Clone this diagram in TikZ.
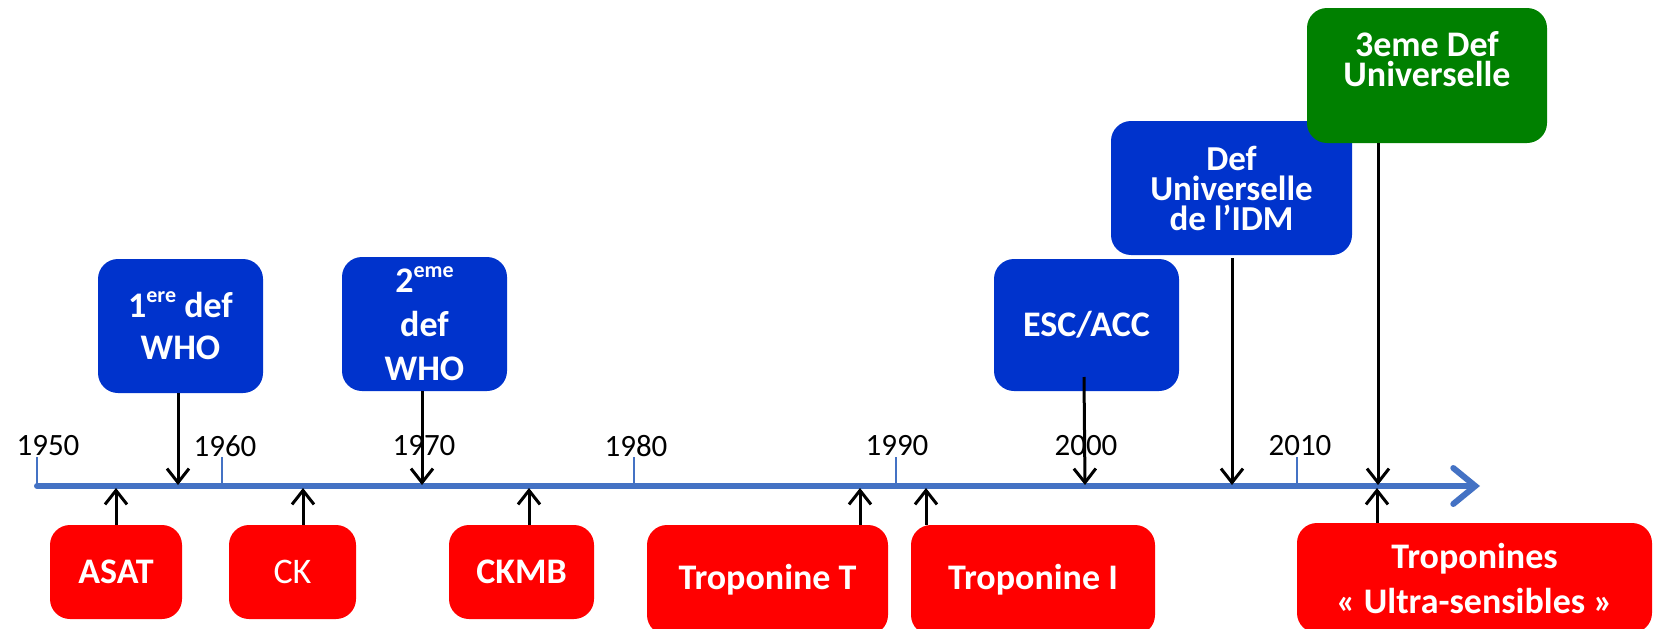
\documentclass[tikz,border=0pt]{standalone}
\usepackage{fontspec}
\setmainfont{Carlito}
\usetikzlibrary{arrows.meta}
\definecolor{boxblue}{RGB}{0,51,204}
\definecolor{boxred}{RGB}{255,0,0}
\definecolor{boxgreen}{RGB}{0,128,0}
\definecolor{axisblue}{RGB}{68,114,196}
\newcommand\supx[1]{\raisebox{0.42em}{\fontsize{22}{22}\selectfont #1}}
\begin{document}
\begin{tikzpicture}[x=1pt,y=-1pt,
  evt/.style={rounded corners=20pt, text=white, align=center, inner sep=0pt,
    font=\fontsize{36}{42}\selectfont\bfseries},
  bluebox/.style={evt, fill=boxblue},
  redbox/.style={evt, fill=boxred},
  greenbox/.style={evt, fill=boxgreen},
  ptr/.style={draw=black, line width=3pt, -{Straight Barb[length=14pt,width=22pt]}},
  axisline/.style={draw=axisblue, line width=6pt, line cap=round,
    -{Straight Barb[length=22pt,width=36pt,line cap=round]}},
  tickline/.style={draw=axisblue, line width=1.2pt},
  year/.style={font=\fontsize{31}{31}\selectfont, text=black, inner sep=0pt}
]
\useasboundingbox (0,0) rectangle (1658,629);

% axis
\coordinate (ax0) at (37,486);
\coordinate (axend) at (1480,486);
\foreach \t in {37,222,423,634,896,1085,1297}{
  \draw[tickline] (\t,457) -- (\t,486);
}
\draw[axisline] (ax0) -- (axend);

% year labels
\node[year] (y1950) at (48,446) {1950};
\node[year] (y1960) at (225,446) {1960};
\node[year] (y1970) at (424,446) {1970};
\node[year] (y1980) at (636,446) {1980};
\node[year] (y1990) at (897,446) {1990};
\node[year] (y2000) at (1086,446) {2000};
\node[year] (y2010) at (1300,446) {2010};

% upper boxes
\node[bluebox, minimum width=165pt, minimum height=134pt] (who1) at (180.5,326) {1\supx{ere} def\\WHO};
\node[bluebox, minimum width=165pt, minimum height=134pt, font=\fontsize{36}{44}\selectfont\bfseries] (who2) at (424.5,324) {2\supx{eme}\\def\\WHO};
\node[bluebox, minimum width=185pt, minimum height=132pt] (esc) at (1086.5,325) {ESC/ACC};
\node[bluebox, minimum width=241pt, minimum height=134pt, font=\fontsize{35}{30}\selectfont\bfseries] (idm) at (1231.5,188) {Def\\Universelle\\de l’IDM};
\node[greenbox, minimum width=240pt, minimum height=135pt, font=\fontsize{36}{30}\selectfont\bfseries] (third) at (1427,75.5) {3eme Def\\Universelle\\[4pt]};

% lower boxes
\node[redbox, minimum width=132pt, minimum height=94pt] (asat) at (116,572) {ASAT};
\node[redbox, minimum width=127pt, minimum height=94pt, font=\fontsize{36}{42}\selectfont\mdseries] (ck) at (292.5,572) {CK};
\node[redbox, minimum width=145pt, minimum height=94pt] (ckmb) at (521.5,572) {CKMB};
\node[redbox, minimum width=241pt, minimum height=110pt] (tropT) at (767.5,580) {Troponine T};
\node[redbox, minimum width=244pt, minimum height=110pt] (tropI) at (1033,580) {Troponine I};
\node[redbox, minimum width=355pt, minimum height=110pt, font=\fontsize{36}{45}\selectfont\bfseries] (ultra) at (1474.5,578) {Troponines\\« Ultra-sensibles »};

% arrow end points on the axis
\coordinate (dw1) at (178,485);
\coordinate (dw2) at (422,485);
\coordinate (des) at (1085,485);
\coordinate (didm) at (1232,485);
\coordinate (dthird) at (1378,485);
\coordinate (uasat) at (116,488);
\coordinate (uck) at (303,488);
\coordinate (uckmb) at (529,488);
\coordinate (utT) at (860,488);
\coordinate (utI) at (926,488);
\coordinate (uultra) at (1377,488);
\coordinate (escstart) at (1084,377);

% down arrows
\draw[ptr] (who1.south -| dw1) -- (dw1);
\draw[ptr] (who2.south -| dw2) -- (dw2);
\draw[ptr] (escstart) -- (des);
\draw[ptr] ([yshift=-3pt]idm.south -| didm) -- (didm);
\draw[ptr] (third.south -| dthird) -- (dthird);

% up arrows
\draw[ptr] (asat.north -| uasat) -- (uasat);
\draw[ptr] (ck.north -| uck) -- (uck);
\draw[ptr] (ckmb.north -| uckmb) -- (uckmb);
\draw[ptr] (tropT.north -| utT) -- (utT);
\draw[ptr] (tropI.north -| utI) -- (utI);
\draw[ptr] (ultra.north -| uultra) -- (uultra);
\end{tikzpicture}
\end{document}
